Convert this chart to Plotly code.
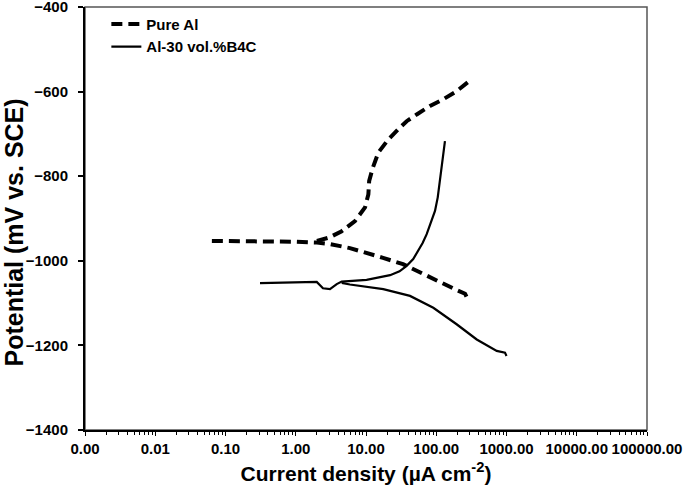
import plotly.graph_objects as go

# ---- data ----
pure_cath_x = [0.064, 0.1, 0.2, 0.5, 1.0, 2.0, 3.0, 5.9, 10, 17.5, 33.6, 53, 80, 125, 200, 257, 270]
pure_cath_y = [-953, -953, -954, -955, -955, -957, -960, -970, -980, -993, -1008, -1024, -1040, -1055, -1070, -1078, -1085]

pure_anod_x = [2.0, 3.0, 4.51, 6.97, 9.68, 10.8, 11.1, 12.5, 15.0, 20.8, 28.8, 37.9, 52.7, 81.5, 126, 195, 286]
pure_anod_y = [-953, -945, -930, -906, -874, -843, -811, -780, -744, -713, -689, -670, -654, -634, -618, -599, -577]

b4c_anod_x = [0.31, 1.0, 1.99, 2.44, 3.07, 3.83, 4.51, 10.2, 22, 30, 37.9, 47, 55.6, 64, 73.1, 84, 96, 105, 113, 123, 133]
b4c_anod_y = [-1053, -1052, -1050, -1065, -1067, -1055, -1049, -1045, -1034, -1025, -1012, -996, -977, -958, -937, -910, -882, -850, -811, -765, -717]

b4c_cath_x = [4.51, 5.9, 17.6, 42.3, 90.8, 195, 377, 726, 952, 1000]
b4c_cath_y = [-1052, -1056, -1067, -1083, -1111, -1150, -1186, -1213, -1217, -1225]

x_tickvals = [0.001, 0.01, 0.1, 1, 10, 100, 1000, 10000, 100000]
x_ticktext = ["0.00", "0.01", "0.10", "1.00", "10.00", "100.00", "1000.00", "10000.00", "100000.00"]
y_tickvals = [-1400, -1200, -1000, -800, -600, -400]

FONT = "Liberation Sans, Arial, sans-serif"

fig = go.Figure()
dash_line = dict(color="black", width=4, dash="11px,6px")
solid_line = dict(color="black", width=2.2)

fig.add_trace(go.Scatter(x=pure_cath_x, y=pure_cath_y, mode="lines", line=dash_line,
                         name="Pure Al", legendgroup="pure", showlegend=True))
fig.add_trace(go.Scatter(x=pure_anod_x, y=pure_anod_y, mode="lines", line=dash_line,
                         name="Pure Al", legendgroup="pure", showlegend=False))
fig.add_trace(go.Scatter(x=b4c_anod_x, y=b4c_anod_y, mode="lines", line=solid_line,
                         name="Al-30 vol.%B4C", legendgroup="b4c", showlegend=True))
fig.add_trace(go.Scatter(x=b4c_cath_x, y=b4c_cath_y, mode="lines", line=solid_line,
                         name="Al-30 vol.%B4C", legendgroup="b4c", showlegend=False))

fig.add_shape(type="rect", xref="paper", yref="paper", x0=0, x1=1, y0=0, y1=1,
              line=dict(color="#555555", width=1.5), layer="below")

fig.add_annotation(text="<b>Potential (mV vs. SCE)</b>", textangle=-90,
                   xref="paper", yref="paper", x=-0.127, y=0.466,
                   xanchor="center", yanchor="middle", showarrow=False,
                   font=dict(family=FONT, size=25, color="black"))

fig.update_layout(
    width=685, height=495,
    margin=dict(l=85, r=38, t=7, b=65),
    paper_bgcolor="white", plot_bgcolor="white",
    font=dict(family=FONT, color="black"),
    legend=dict(x=0.038, y=0.998, xanchor="left", yanchor="top",
                bgcolor="rgba(0,0,0,0)", borderwidth=0,
                font=dict(family=FONT, size=15, color="black", weight="bold"),
                tracegroupgap=0),
    xaxis=dict(type="log", range=[-3, 5], tickvals=x_tickvals, ticktext=x_ticktext,
               automargin=False,
               showgrid=False, zeroline=False, showline=True, linecolor="black", linewidth=2,
               ticks="outside", ticklen=4, tickcolor="black", tickwidth=1,
               minor=dict(ticks="outside", ticklen=3, tickcolor="black", dtick="D1", showgrid=False),
               tickfont=dict(family=FONT, size=15, color="black", weight="bold"),
               ticklabeloverflow="allow",
               title=dict(text="<b>Current density (µA cm<sup>-2</sup>)</b>",
                          font=dict(family=FONT, size=21, color="black"), standoff=10)),
    yaxis=dict(range=[-1400, -400], tickvals=y_tickvals,
               automargin=False,
               showgrid=False, zeroline=False, showline=True, linecolor="black", linewidth=2,
               ticks="outside", ticklen=5, tickcolor="black", tickwidth=1.5,
               tickfont=dict(family=FONT, size=15, color="black", weight="bold"),
               ticklabeloverflow="allow", ticklabelstandoff=7),
    showlegend=True,
)

fig.write_html("out.html", config={"displayModeBar": False},
               post_script="document.body.style.margin='0';")
